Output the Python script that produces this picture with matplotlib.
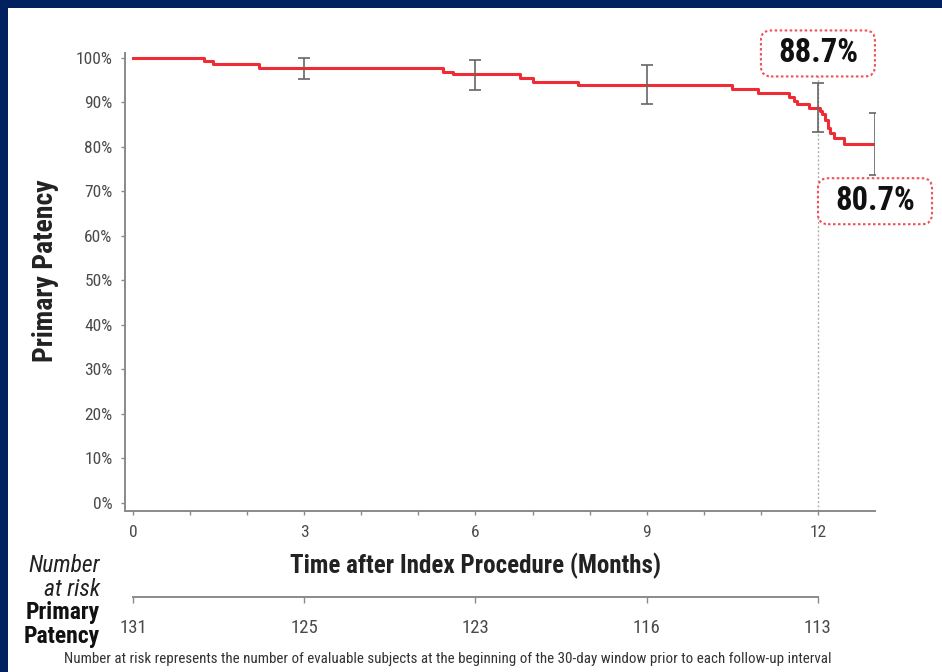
import matplotlib
matplotlib.use('Agg')
import matplotlib.pyplot as plt
import matplotlib.transforms as mtransforms
from matplotlib.patches import Rectangle, FancyBboxPatch

# colours
NAVY = '#00205f'
RED = '#ef2b35'
BOX_RED = '#f0505a'
BAR_GRAY = '#666666'
AXIS_GRAY = '#8a8a8a'
TEXT_DARK = '#222222'
TICK_TEXT = '#4a4a4a'

plt.rcParams['font.family'] = ['Roboto Condensed', 'DejaVu Sans']

# Kaplan-Meier curve (months, primary patency %)
months = [0, 1.25, 1.41, 2.21, 5.44, 5.60, 6.78, 7.01, 7.80, 10.50, 10.95, 11.50,
          11.58, 11.64, 11.85, 12.04, 12.08, 12.13, 12.17, 12.22, 12.28, 12.45, 13.0]
patency = [100, 99.3, 98.7, 97.8, 96.8, 96.3, 95.5, 94.6, 93.8, 93.0, 92.2, 91.3,
           90.4, 89.7, 88.7, 88.0, 87.4, 86.0, 84.3, 83.1, 82.0, 80.7, 80.7]

# confidence bars
bar_months = [3, 6, 9, 12, 13]
bar_center = [97.8, 96.3, 93.8, 88.7, 80.7]
bar_low = [95.3, 92.8, 89.7, 83.3, 73.7]
bar_high = [99.9, 99.5, 98.3, 94.3, 87.7]

# call-outs: (month, y position, text)
callouts = [(12, 101.0, '88.7%'), (13, 67.8, '80.7%')]

# number at risk table
risk_months = [0, 3, 6, 9, 12]
at_risk = [131, 125, 123, 116, 113]

y_ticks = list(range(0, 101, 10))
x_major = [0, 3, 6, 9, 12]
x_minor = [1, 2, 4, 5, 7, 8, 10, 11]

W, H = 942, 672
fig = plt.figure(figsize=(W / 100, H / 100), dpi=100)
fig.patch.set_facecolor(NAVY)
fig.add_artist(Rectangle((8 / W, 0), 1 - 8 / W, 1 - 8 / H, transform=fig.transFigure,
                         facecolor='white', edgecolor='none', zorder=0))

def fx(px):
    return px / W

def fy(py):
    return 1 - py / H

ax = fig.add_axes([fx(125), fy(511), fx(875) - fx(125), fy(53) - fy(511)])
ax.set_facecolor('none')
ax.set_xlim(-0.14, 13.0)
ax.set_ylim(-1.8, 101.1)

ax.step(months, patency, where='post', color=RED, lw=2.2, zorder=3)
ax.errorbar(bar_months, bar_center,
            yerr=[[c - l for c, l in zip(bar_center, bar_low)],
                  [h - c for c, h in zip(bar_center, bar_high)]],
            fmt='none', ecolor=BAR_GRAY, elinewidth=1.2, capsize=4.5, capthick=1.2, zorder=4)

# dotted reference line at 12 months
ax.plot([12, 12], [-1.8, 96.0], color='#b0b0b0', lw=1.0, ls=(0, (1.5, 1.5)), zorder=1,
        clip_on=False)

for side in ['top', 'right']:
    ax.spines[side].set_visible(False)
for side in ['left', 'bottom']:
    ax.spines[side].set_color(AXIS_GRAY)
    ax.spines[side].set_linewidth(1.4)

ax.set_yticks(y_ticks)
ax.set_yticklabels([f'{v}%' for v in y_ticks])
ax.set_xticks(x_major)
ax.set_xticklabels([str(v) for v in x_major])
ax.set_xticks(x_minor, minor=True)
ax.tick_params(axis='both', which='both', direction='out', length=3, width=1,
               color=AXIS_GRAY, labelcolor=TICK_TEXT, labelsize=12.5)
ax.tick_params(axis='x', pad=7)
ax.tick_params(axis='y', pad=6)

ax.set_ylabel('Primary Patency', fontsize=20, fontweight='bold', color=TEXT_DARK)
ax.yaxis.set_label_coords(-0.088, 0.524)
ax.text(6, -0.12, 'Time after Index Procedure (Months)',
        transform=mtransforms.blended_transform_factory(ax.transData, ax.transAxes),
        ha='center', va='center', fontsize=18, fontweight='bold', color=TEXT_DARK)

# value call-outs with dotted rounded boxes (size in pixels around the data point)
box_w, box_h = 114, 46
for mx, my, label in callouts:
    cx, cy = ax.transData.transform((mx, my))
    patch = FancyBboxPatch((cx - box_w / 2, cy - box_h / 2), box_w, box_h,
                           boxstyle='round,pad=0,rounding_size=10',
                           transform=mtransforms.IdentityTransform(),
                           facecolor='white', edgecolor=BOX_RED, linewidth=1.5,
                           linestyle=(0, (1.2, 1.2)), zorder=6, clip_on=False)
    ax.add_artist(patch)
    ax.text(mx, my, label, ha='center', va='center', fontsize=23.5, fontweight='bold',
            color='#111111', clip_on=False, zorder=7)

# number at risk axis
rax = fig.add_axes([fx(125), fy(597), fx(875) - fx(125), 0.001])
rax.set_facecolor('none')
rax.set_xlim(ax.get_xlim())
rax.set_yticks([])
for side in ['top', 'right', 'left']:
    rax.spines[side].set_visible(False)
rax.spines['bottom'].set_bounds(0, 12)
rax.spines['bottom'].set_color(AXIS_GRAY)
rax.spines['bottom'].set_linewidth(1.4)
rax.set_xticks(risk_months)
rax.set_xticklabels([str(n) for n in at_risk])
rax.tick_params(axis='x', direction='out', length=4, width=1, color=AXIS_GRAY,
                labelcolor=TICK_TEXT, labelsize=13.5, pad=12)

fig.text(fx(100), fy(566), 'Number', ha='right', va='center', fontsize=17,
         style='italic', color=TEXT_DARK)
fig.text(fx(100), fy(589), 'at risk', ha='right', va='center', fontsize=17,
         style='italic', color=TEXT_DARK)
fig.text(fx(100), fy(613), 'Primary', ha='right', va='center', fontsize=17,
         fontweight='bold', color='#111111')
fig.text(fx(100), fy(636), 'Patency', ha='right', va='center', fontsize=17,
         fontweight='bold', color='#111111')

fig.text(fx(448), fy(659), 'Number at risk represents the number of evaluable subjects at the '
         'beginning of the 30-day window prior to each follow-up interval',
         ha='center', va='center', fontsize=10.8, color='#333333')

fig.savefig('out.png', dpi=100, facecolor=fig.get_facecolor())
